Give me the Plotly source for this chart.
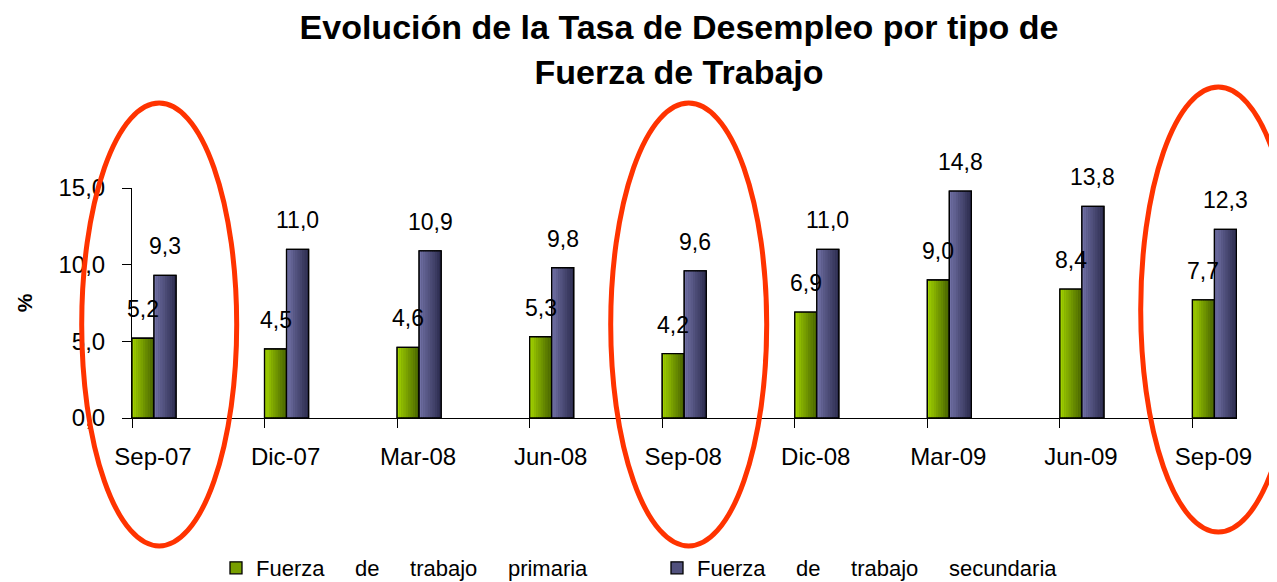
import plotly.graph_objects as go

categories = ["Sep-07", "Dic-07", "Mar-08", "Jun-08", "Sep-08", "Dic-08", "Mar-09", "Jun-09", "Sep-09"]
primaria = [5.2, 4.5, 4.6, 5.3, 4.2, 6.9, 9.0, 8.4, 7.7]
secundaria = [9.3, 11.0, 10.9, 9.8, 9.6, 11.0, 14.8, 13.8, 12.3]
series_names = ["Fuerza de trabajo primaria", "Fuerza de trabajo secundaria"]
y_ticks = [0, 5, 10, 15]

FONT = "Liberation Sans"
W, H = 1277, 582
OFF = 8  # page body margin offset
L, R, T, B = 132 - OFF, 1237 - OFF, 188 - OFF, 418 - OFF  # plot area in figure pixels

BAR_W = 0.166
N_STRIPS = 10

series = [
    (primaria, (160, 208, 0), (72, 100, 0), 0.0),
    (secundaria, (112, 112, 164), (44, 44, 78), BAR_W),
]


def lerp(c0, c1, t):
    return "rgb(%d,%d,%d)" % tuple(round(a + (b - a) * t) for a, b in zip(c0, c1))


fig = go.Figure()
for si, (vals, c0, c1, off) in enumerate(series):
    label = ("\u00a0" * 5).join(series_names[si].split(" "))
    fig.add_trace(go.Bar(
        x=categories, y=vals, offset=off, width=BAR_W, name=label,
        marker=dict(color=lerp(c0, c1, 0.45), line=dict(color="black", width=1.3)),
        showlegend=True, hoverinfo="skip",
    ))
    sw = BAR_W / N_STRIPS
    for k in range(N_STRIPS):
        fig.add_trace(go.Bar(
            x=categories, y=vals, offset=off + k * sw, width=sw * 1.02,
            marker=dict(color=lerp(c0, c1, k / (N_STRIPS - 1)), line=dict(width=0)),
            showlegend=False, hoverinfo="skip",
        ))
    fig.add_trace(go.Bar(
        x=categories, y=vals, offset=off, width=BAR_W,
        marker=dict(color="rgba(0,0,0,0)", line=dict(color="black", width=1.3)),
        showlegend=False, hoverinfo="skip",
    ))

annotations = []
for si, (vals, c0, c1, off) in enumerate(series):
    for i, v in enumerate(vals):
        annotations.append(dict(
            x=i + off + BAR_W / 2, y=v, xref="x", yref="y",
            text=f"{v:.1f}".replace(".", ","), showarrow=False,
            yanchor="bottom", xanchor="center", yshift=14,
            font=dict(family=FONT, size=23, color="black"),
        ))


def px_x(p):
    return (p - OFF - L) / (R - L)


def px_y(p):
    return (B - (p - OFF)) / (B - T)


ellipses = [(81.7, 236.7, 103, 546), (610.7, 766.7, 103, 546), (1140.7, 1296, 87, 532)]
shapes = []
for x0, x1, y0, y1 in ellipses:
    shapes.append(dict(
        type="circle", xref="paper", yref="paper",
        x0=px_x(x0), x1=px_x(x1), y0=px_y(y1), y1=px_y(y0),
        line=dict(color="#FF3300", width=5), fillcolor="rgba(0,0,0,0)", layer="above",
    ))

fig.update_layout(
    width=W, height=H,
    margin=dict(l=L, r=W - R, t=T, b=H - B, pad=0, autoexpand=False),
    paper_bgcolor="white", plot_bgcolor="white",
    separators=",.",
    barmode="overlay",
    font=dict(family=FONT, color="black", size=22),
    title=dict(
        text="<b>Evolución de la Tasa de Desempleo por tipo de<br>Fuerza de Trabajo</b>",
        font=dict(family=FONT, size=34, color="black"),
        x=(679 - OFF - L) / (R - L), xref="paper", xanchor="center",
        y=0.946, yref="container", yanchor="top",
    ),
    xaxis=dict(
        type="category", range=[0, 8.336], showline=True, linecolor="black", linewidth=1,
        ticks="outside", ticklen=9, tickcolor="black", tickwidth=1,
        ticklabelshift=21, ticklabelstandoff=8, automargin=False,
        tickfont=dict(family=FONT, size=24, color="black"),
        showgrid=False, zeroline=False, fixedrange=True,
    ),
    yaxis=dict(
        range=[0, 15], tickvals=y_ticks, tickformat=".1f",
        showline=True, linecolor="black", linewidth=1,
        ticks="outside", ticklen=9, tickcolor="black", tickwidth=1,
        ticklabelstandoff=12, automargin=False,
        tickfont=dict(family=FONT, size=24, color="black"),
        title=dict(text="<b>%</b>", font=dict(family=FONT, size=21, color="black"), standoff=20),
        showgrid=False, zeroline=False, fixedrange=True,
    ),
    legend=dict(
        orientation="h", xref="container", yref="container",
        x=208 / W, xanchor="left", y=1 - (568 - OFF) / H, yanchor="middle",
        font=dict(family=FONT, size=22, color="black"),
        entrywidth=396, entrywidthmode="pixels", itemclick=False,
        bgcolor="rgba(0,0,0,0)",
    ),
    annotations=annotations,
    shapes=shapes,
)

fig.write_html("out.html")
